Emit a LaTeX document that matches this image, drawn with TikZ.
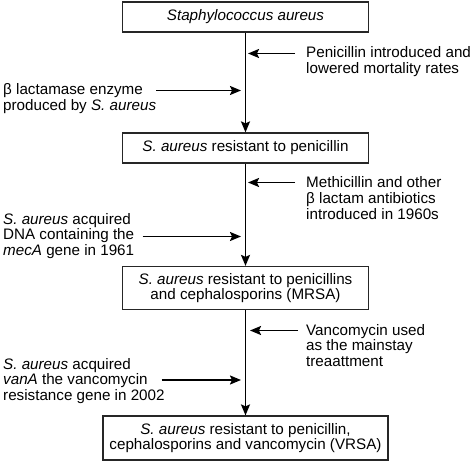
\documentclass[tikz,border=0pt]{standalone}
\usepackage{fontspec}
\setmainfont{Liberation Sans}
\usetikzlibrary{arrows.meta}
\begin{document}
\begin{tikzpicture}[x=1pt,y=-1pt,
  box/.style={draw=black!85,line width=1.2pt,inner sep=0pt,align=center,font=\fontsize{15.2}{15.6}\selectfont},
  lbl/.style={inner sep=0pt,align=left,anchor=west,font=\fontsize{15.2}{15.6}\selectfont},
  flow/.style={line width=1.8pt,-{Stealth[length=11pt,width=9pt,inset=2pt]}}]
\useasboundingbox (0,0) rectangle (474,465);
\node[box,minimum width=246pt,minimum height=30pt] (b1) at (245.5,17) {\itshape Staphylococcus aureus};
\node[box,minimum width=246pt,minimum height=30pt] (b2) at (245.5,148) {\textit{S. aureus} resistant to penicillin};
\node[box,minimum width=246pt,minimum height=43pt] (b3) at (245.5,288) {\textit{S. aureus} resistant to penicillins\\and cephalosporins (MRSA)};
\node[box,minimum width=285pt,minimum height=44pt] (b4) at (245.5,438) {\textit{S. aureus} resistant to penicillin,\\cephalosporins and vancomycin (VRSA)};
\draw[flow] (b1) -- (b2);
\draw[flow] (b2) -- (b3);
\draw[flow] (b3) -- (b4);
% right labels
\node[lbl] (r1) at (306,61.5) {Penicillin introduced and\\lowered mortality rates};
\node[lbl] (r2) at (306,198) {Methicillin and other\\β lactam antibiotics\\introduced in 1960s};
\node[lbl] (r3) at (306,345.5) {Vancomycin used\\as the mainstay\\treaattment};
% left labels
\node[lbl] (l1) at (3,98.5) {β lactamase enzyme\\produced by \textit{S. aureus}};
\node[lbl] (l2) at (3,236) {\textit{S. aureus} acquired\\DNA containing the\\\textit{mecA} gene in 1961};
\node[lbl] (l3) at (3,381) {\textit{S. aureus} acquired\\\textit{vanA} the vancomycin\\resistance gene in 2002};
% arrow end points
\coordinate (r1s) at (295,53.5);   \coordinate (r1e) at (248,53.5);
\coordinate (r2s) at (295,182.5);  \coordinate (r2e) at (248,182.5);
\coordinate (r3s) at (298,330.5);  \coordinate (r3e) at (250,330.5);
\coordinate (l1s) at (156,90.5);   \coordinate (l1e) at (241,90.5);
\coordinate (l2s) at (142.5,236.5);\coordinate (l2e) at (241,236.5);
\coordinate (l3s) at (161.5,380);  \coordinate (l3e) at (241,380);
\draw[flow] (r1s) -- (r1e);
\draw[flow] (r2s) -- (r2e);
\draw[flow] (r3s) -- (r3e);
\draw[flow] (l1s) -- (l1e);
\draw[flow] (l2s) -- (l2e);
\draw[flow] (l3s) -- (l3e);
\end{tikzpicture}
\end{document}
